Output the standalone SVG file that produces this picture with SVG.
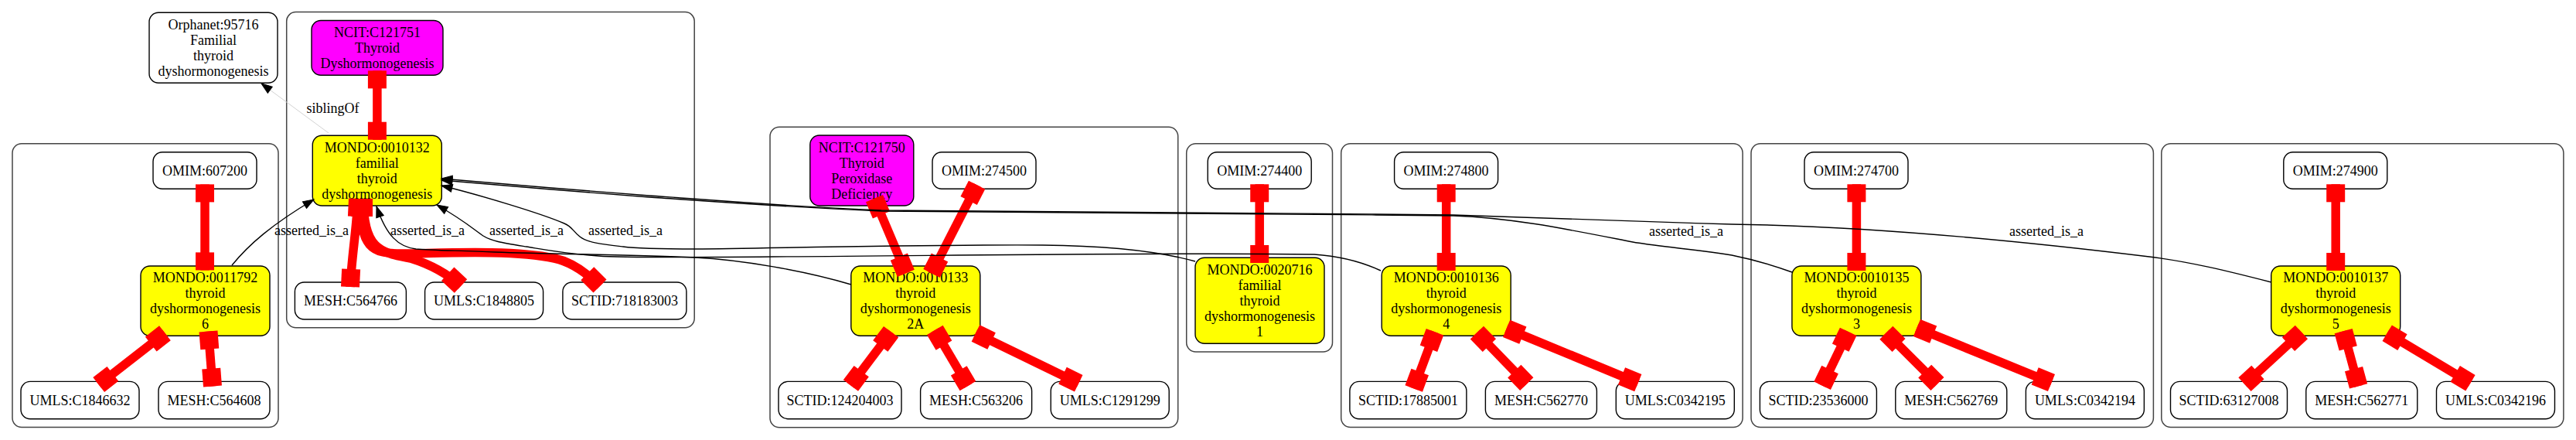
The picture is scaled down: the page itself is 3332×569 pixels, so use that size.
<svg xmlns="http://www.w3.org/2000/svg" width="3332" height="569" viewBox="0 0 3332 569">
<style>
.cl{fill:none;stroke:#444;stroke-width:1.5}
.nd{stroke:#000;stroke-width:1.4}
.w{fill:#fff}.y{fill:#ffff00}.m{fill:#ff00ff}
.t{font-family:"Liberation Serif","Times New Roman",serif;font-size:18px;text-anchor:middle;fill:#000}
.re{fill:none;stroke:#ff0000;stroke-width:11.5;marker-start:url(#tee);marker-end:url(#tee)}
.be{fill:none;stroke:#000;stroke-width:1.4;marker-end:url(#arr)}
.sib{fill:none;stroke:#d3d3d3;stroke-width:1;marker-end:url(#arr)}
</style>
<defs>
<marker id="tee" markerUnits="userSpaceOnUse" viewBox="-26 -15 30 30" markerWidth="30" markerHeight="30" refX="0" refY="0" orient="auto-start-reverse" overflow="visible"><rect x="-23" y="-12" width="23" height="24" fill="#ff0000"/></marker>
<marker id="arr" markerUnits="userSpaceOnUse" viewBox="-16 -7 17 14" markerWidth="17" markerHeight="14" refX="0" refY="0" orient="auto" overflow="visible"><path d="M0,0 L-14,-5 L-14,5 Z" fill="#000" stroke="#000" stroke-width="1"/></marker>
</defs>
<rect x="0" y="0" width="3332" height="569" fill="#fff"/>
<g id="clusters">
<rect class="cl" x="16" y="185.8" width="344" height="366.8" rx="12"/>
<rect class="cl" x="370.7" y="15.6" width="527.5" height="408.2" rx="12"/>
<rect class="cl" x="996" y="164.3" width="527.7" height="388.4" rx="12"/>
<rect class="cl" x="1534.7" y="185.7" width="188.8" height="269.3" rx="12"/>
<rect class="cl" x="1734.7" y="185.7" width="519.4" height="366.8" rx="12"/>
<rect class="cl" x="2265" y="185.7" width="520.4" height="366.8" rx="12"/>
<rect class="cl" x="2795.8" y="185.7" width="520.1" height="366.8" rx="12"/>
</g>
<g id="nodes">
<g id="orphanet_95716"><rect class="nd w" x="193" y="16.3" width="166" height="91" rx="12"/><text class="t"><tspan x="276" y="37.8">Orphanet:95716</tspan><tspan x="276" y="57.8">Familial</tspan><tspan x="276" y="77.8">thyroid</tspan><tspan x="276" y="97.8">dyshormonogenesis</tspan></text></g>
<g id="omim_607200"><rect class="nd w" x="198" y="196.7" width="134" height="47.6" rx="12"/><text class="t" x="265" y="226.5">OMIM:607200</text></g>
<g id="mondo_0011792"><rect class="nd y" x="182" y="344" width="167" height="90.3" rx="12"/><text class="t"><tspan x="265.5" y="365.2">MONDO:0011792</tspan><tspan x="265.5" y="385.2">thyroid</tspan><tspan x="265.5" y="405.2">dyshormonogenesis</tspan><tspan x="265.5" y="425.2">6</tspan></text></g>
<g id="umls_C1846632"><rect class="nd w" x="27" y="493.4" width="153" height="48.3" rx="12"/><text class="t" x="103.5" y="523.5">UMLS:C1846632</text></g>
<g id="mesh_C564608"><rect class="nd w" x="205" y="493.4" width="144" height="48.3" rx="12"/><text class="t" x="277" y="523.5">MESH:C564608</text></g>
<g id="ncit_C121751"><rect class="nd m" x="403" y="26.5" width="170" height="70.7" rx="12"/><text class="t"><tspan x="488" y="47.85">NCIT:C121751</tspan><tspan x="488" y="67.85">Thyroid</tspan><tspan x="488" y="87.85">Dyshormonogenesis</tspan></text></g>
<g id="mondo_0010132"><rect class="nd y" x="404.3" y="175.3" width="167" height="90.7" rx="12"/><text class="t"><tspan x="487.8" y="196.65">MONDO:0010132</tspan><tspan x="487.8" y="216.65">familial</tspan><tspan x="487.8" y="236.65">thyroid</tspan><tspan x="487.8" y="256.65">dyshormonogenesis</tspan></text></g>
<g id="mesh_C564766"><rect class="nd w" x="381.4" y="365" width="144" height="48" rx="12"/><text class="t" x="453.4" y="395">MESH:C564766</text></g>
<g id="umls_C1848805"><rect class="nd w" x="549.6" y="365" width="153" height="48" rx="12"/><text class="t" x="626.1" y="395">UMLS:C1848805</text></g>
<g id="sctid_718183003"><rect class="nd w" x="727.9" y="365" width="160" height="48" rx="12"/><text class="t" x="807.9" y="395">SCTID:718183003</text></g>
<g id="ncit_C121750"><rect class="nd m" x="1047.8" y="175" width="134" height="91" rx="12"/><text class="t"><tspan x="1114.8" y="196.5">NCIT:C121750</tspan><tspan x="1114.8" y="216.5">Thyroid</tspan><tspan x="1114.8" y="236.5">Peroxidase</tspan><tspan x="1114.8" y="256.5">Deficiency</tspan></text></g>
<g id="omim_274500"><rect class="nd w" x="1206" y="196.7" width="134" height="47.6" rx="12"/><text class="t" x="1273" y="226.5">OMIM:274500</text></g>
<g id="mondo_0010133"><rect class="nd y" x="1100.8" y="344" width="167" height="90.3" rx="12"/><text class="t"><tspan x="1184.3" y="365.2">MONDO:0010133</tspan><tspan x="1184.3" y="385.2">thyroid</tspan><tspan x="1184.3" y="405.2">dyshormonogenesis</tspan><tspan x="1184.3" y="425.2">2A</tspan></text></g>
<g id="sctid_124204003"><rect class="nd w" x="1007" y="493.4" width="159" height="48.3" rx="12"/><text class="t" x="1086.5" y="523.5">SCTID:124204003</text></g>
<g id="mesh_C563206"><rect class="nd w" x="1190.6" y="493.4" width="144" height="48.3" rx="12"/><text class="t" x="1262.6" y="523.5">MESH:C563206</text></g>
<g id="umls_C1291299"><rect class="nd w" x="1359.2" y="493.4" width="153" height="48.3" rx="12"/><text class="t" x="1435.7" y="523.5">UMLS:C1291299</text></g>
<g id="omim_274400"><rect class="nd w" x="1562.2" y="196.7" width="134" height="47.6" rx="12"/><text class="t" x="1629.2" y="226.5">OMIM:274400</text></g>
<g id="mondo_0020716"><rect class="nd y" x="1546" y="333.3" width="167" height="111" rx="12"/><text class="t"><tspan x="1629.5" y="354.8">MONDO:0020716</tspan><tspan x="1629.5" y="374.8">familial</tspan><tspan x="1629.5" y="394.8">thyroid</tspan><tspan x="1629.5" y="414.8">dyshormonogenesis</tspan><tspan x="1629.5" y="434.8">1</tspan></text></g>
<g id="omim_274800"><rect class="nd w" x="1803.6" y="196.7" width="134" height="47.6" rx="12"/><text class="t" x="1870.6" y="226.5">OMIM:274800</text></g>
<g id="mondo_0010136"><rect class="nd y" x="1787.2" y="344" width="167" height="90.3" rx="12"/><text class="t"><tspan x="1870.7" y="365.2">MONDO:0010136</tspan><tspan x="1870.7" y="385.2">thyroid</tspan><tspan x="1870.7" y="405.2">dyshormonogenesis</tspan><tspan x="1870.7" y="425.2">4</tspan></text></g>
<g id="sctid_17885001"><rect class="nd w" x="1745.9" y="493.4" width="151" height="48.3" rx="12"/><text class="t" x="1821.4" y="523.5">SCTID:17885001</text></g>
<g id="mesh_C562770"><rect class="nd w" x="1921.4" y="493.4" width="144" height="48.3" rx="12"/><text class="t" x="1993.4" y="523.5">MESH:C562770</text></g>
<g id="umls_C0342195"><rect class="nd w" x="2090.3" y="493.4" width="153" height="48.3" rx="12"/><text class="t" x="2166.8" y="523.5">UMLS:C0342195</text></g>
<g id="omim_274700"><rect class="nd w" x="2334" y="196.7" width="134" height="47.6" rx="12"/><text class="t" x="2401" y="226.5">OMIM:274700</text></g>
<g id="mondo_0010135"><rect class="nd y" x="2317.9" y="344" width="167" height="90.3" rx="12"/><text class="t"><tspan x="2401.4" y="365.2">MONDO:0010135</tspan><tspan x="2401.4" y="385.2">thyroid</tspan><tspan x="2401.4" y="405.2">dyshormonogenesis</tspan><tspan x="2401.4" y="425.2">3</tspan></text></g>
<g id="sctid_23536000"><rect class="nd w" x="2276.4" y="493.4" width="151" height="48.3" rx="12"/><text class="t" x="2351.9" y="523.5">SCTID:23536000</text></g>
<g id="mesh_C562769"><rect class="nd w" x="2451.8" y="493.4" width="144" height="48.3" rx="12"/><text class="t" x="2523.8" y="523.5">MESH:C562769</text></g>
<g id="umls_C0342194"><rect class="nd w" x="2620.4" y="493.4" width="153" height="48.3" rx="12"/><text class="t" x="2696.9" y="523.5">UMLS:C0342194</text></g>
<g id="omim_274900"><rect class="nd w" x="2953.8" y="196.7" width="134" height="47.6" rx="12"/><text class="t" x="3020.8" y="226.5">OMIM:274900</text></g>
<g id="mondo_0010137"><rect class="nd y" x="2937.7" y="344" width="167" height="90.3" rx="12"/><text class="t"><tspan x="3021.2" y="365.2">MONDO:0010137</tspan><tspan x="3021.2" y="385.2">thyroid</tspan><tspan x="3021.2" y="405.2">dyshormonogenesis</tspan><tspan x="3021.2" y="425.2">5</tspan></text></g>
<g id="sctid_63127008"><rect class="nd w" x="2807.5" y="493.4" width="151" height="48.3" rx="12"/><text class="t" x="2883" y="523.5">SCTID:63127008</text></g>
<g id="mesh_C562771"><rect class="nd w" x="2982.8" y="493.4" width="144" height="48.3" rx="12"/><text class="t" x="3054.8" y="523.5">MESH:C562771</text></g>
<g id="umls_C0342196"><rect class="nd w" x="3151.5" y="493.4" width="153" height="48.3" rx="12"/><text class="t" x="3228" y="523.5">UMLS:C0342196</text></g>
</g>
<g id="connectors">
<path class="re" d="M265,238.4 L265,349.4"/>
<path class="re" d="M213.4,430.8 L127.7,497.5"/>
<path class="re" d="M269.5,428.5 L275,499.5"/>
<path class="re" d="M487.9,91.4 L487.9,180.7"/>
<path class="re" d="M463,257 C461,300 455,330 453,371"/>
<path class="re" d="M470,257 C470,320 490,327 531,334 C560,343 580,355 596,370"/>
<path class="re" d="M466,257 C466,320 480,328 520,328 C560,328 660,322 717,334 C740,339 758,352 776,370"/>
<path class="re" d="M1131,256.7 L1171.8,353.3"/>
<path class="re" d="M1263.6,239.1 L1205,353.5"/>
<path class="re" d="M1152.6,429.1 L1100.4,498.5"/>
<path class="re" d="M1209.3,426.8 L1251.9,499.2"/>
<path class="re" d="M1261.9,431 L1395.2,495.7"/>
<path class="re" d="M1629.2,238.3 L1629.2,340"/>
<path class="re" d="M1870.7,238.3 L1870.7,350"/>
<path class="re" d="M1856,429.2 L1828.7,502.5"/>
<path class="re" d="M1910.4,430.1 L1974.8,496.6"/>
<path class="re" d="M1948.6,424.9 L2118.8,495.1"/>
<path class="re" d="M2401.4,238.3 L2401.4,350"/>
<path class="re" d="M2390.7,428.9 L2357.1,498.7"/>
<path class="re" d="M2439.8,430.2 L2506,496.4"/>
<path class="re" d="M2479.4,424 L2653.5,495"/>
<path class="re" d="M3021.2,238.3 L3021.2,350"/>
<path class="re" d="M2976.9,429.5 L2903.5,497.1"/>
<path class="re" d="M3031.2,428.2 L3050.6,499.4"/>
<path class="re" d="M3087.7,430.8 L3195.5,495.2"/>
<path class="sib" d="M425,172 L338,108"/>
<path class="be" d="M300,343 C322,316 352,290 406,258"/>
<path class="be" d="M1101,368 C1040,350 960,336 899,333 C820,329 720,329 640,326 C600,324 560,324 538,322 C515,319 500,305 487,267"/>
<path class="be" d="M1786,350 C1760,338 1730,331 1700,329 C1500,326 1200,331 1000,332 C880,333 800,333 774,331 C730,328 700,322 681,319 C650,314 636,312 625,305 C612,296 600,285 565,265"/>
<path class="be" d="M1546,338 C1510,328 1450,318 1349,317 C1200,316 1000,321 900,322 C850,322 820,321 806,319 C780,316 760,314 750,306 C740,298 740,293 730,289 C700,276 620,252 571,240"/>
<path class="be" d="M2938,365 C2880,350 2830,338 2780,332 C2600,310 2400,292 2240,290 C2100,286 1950,280 1880,278 C1600,275 1300,273 1140,272 C1000,266 900,257 840,253 C760,247 650,238 571,231"/>
<path class="be" d="M2318,352 C2290,342 2265,335 2240,330 C2180,321 2140,318 2112,313 C2030,297 1960,282 1880,279 C1600,276 1300,274 1140,273 C1000,267 900,259 840,255 C760,249 650,240 571,233"/>
<text class="t" x="430.5" y="146">siblingOf</text>
<text class="t" x="403" y="304">asserted_is_a</text>
<text class="t" x="553" y="304">asserted_is_a</text>
<text class="t" x="681" y="304">asserted_is_a</text>
<text class="t" x="809" y="304">asserted_is_a</text>
<text class="t" x="2181" y="305">asserted_is_a</text>
<text class="t" x="2647" y="305">asserted_is_a</text>
</g>
</svg>
